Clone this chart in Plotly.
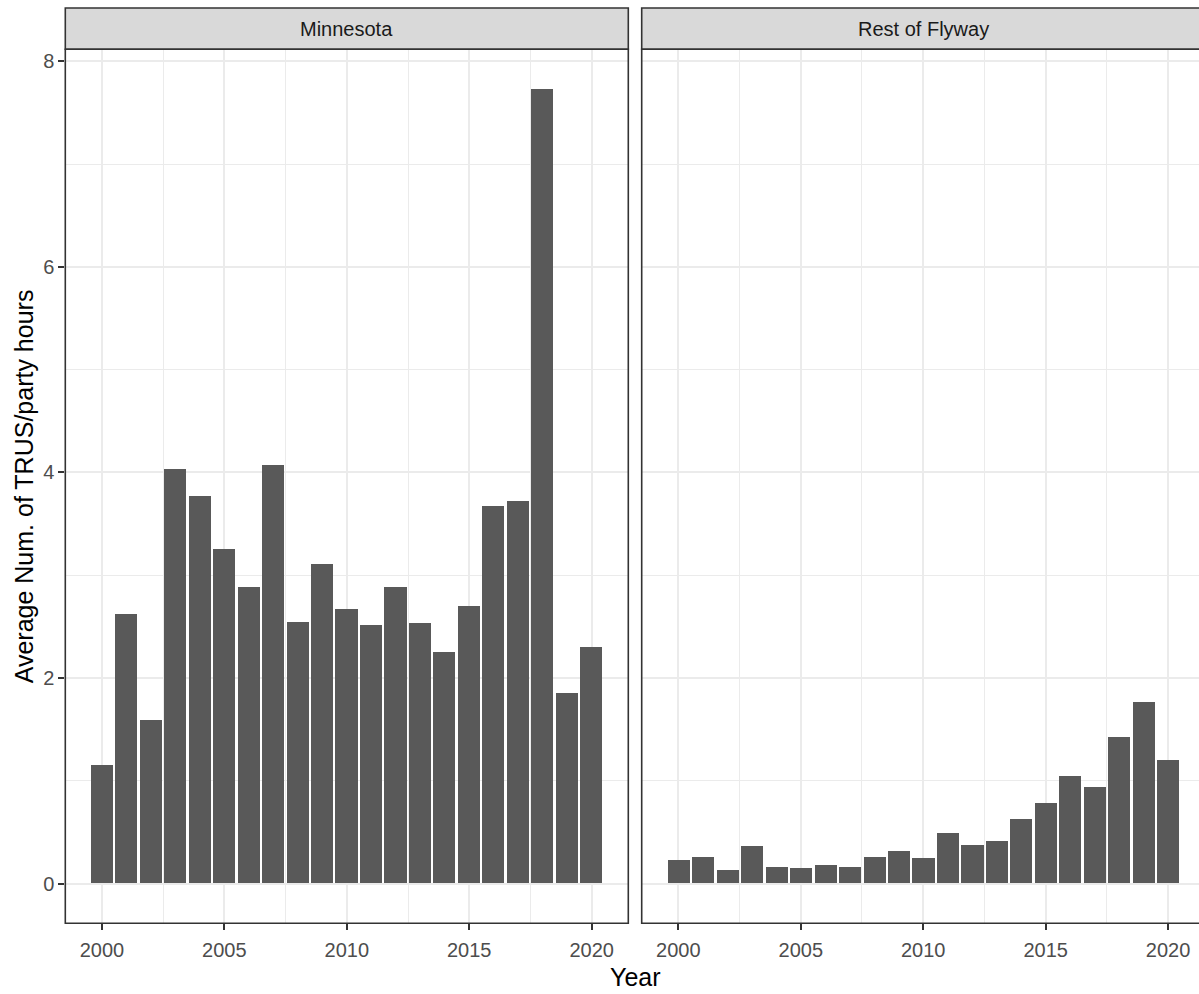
import plotly.graph_objects as go

# Average number of TRUS per party hour, by year
years = list(range(2000, 2021))
minnesota = [1.15, 2.62, 1.59, 4.03, 3.77, 3.25, 2.88, 4.07, 2.54, 3.11, 2.67,
             2.51, 2.88, 2.53, 2.25, 2.70, 3.67, 3.72, 7.73, 1.85, 2.30]
rest_of_flyway = [0.23, 0.26, 0.13, 0.36, 0.16, 0.15, 0.18, 0.16, 0.26, 0.31, 0.25,
                  0.49, 0.37, 0.41, 0.63, 0.78, 1.04, 0.94, 1.42, 1.76, 1.20]
panel_labels = ["Minnesota", "Rest of Flyway"]
x_ticks = [2000, 2005, 2010, 2015, 2020]
y_ticks = [0, 2, 4, 6, 8]

W, H = 1199, 994
FONT = "Liberation Sans, Arial, sans-serif"
BAR = "#595959"
GRID = "#EBEBEB"
DARK = "#333333"

# panel geometry (pixels)
panel_top, panel_bottom = 49.3, 923.3
strip_top = 8.0
left_panel = (65.3, 628.3)
right_panel = (641.7, 1204.7)

def px(x):
    return x / W

def py(y):
    return 1 - y / H

# ggplot-style expanded scales
bar_w = 0.9
x_lo = min(years) - bar_w / 2
x_hi = max(years) + bar_w / 2
x_pad = 0.05 * (x_hi - x_lo)
x_range = [x_lo - x_pad, x_hi + x_pad]
ymax = max(max(minnesota), max(rest_of_flyway))
y_range = [-0.05 * ymax, 1.05 * ymax]

# right panel runs past the page edge; clip its range at the page
per_px = (x_range[1] - x_range[0]) / (right_panel[1] - right_panel[0])
x2_range = [x_range[0], x_range[0] + (W - right_panel[0]) * per_px]

fig = go.Figure()
fig.add_trace(go.Bar(x=years, y=minnesota, width=bar_w, marker=dict(color=BAR, line=dict(width=0)),
                     xaxis="x", yaxis="y", showlegend=False))
fig.add_trace(go.Bar(x=years, y=rest_of_flyway, width=bar_w, marker=dict(color=BAR, line=dict(width=0)),
                     xaxis="x2", yaxis="y2", showlegend=False))

xcommon = dict(
    tickvals=x_ticks, ticks="outside", ticklen=6, tickwidth=1.5, tickcolor=DARK,
    tickfont=dict(family=FONT, size=20, color="#4D4D4D"), ticklabelstandoff=3,
    showgrid=True, gridcolor=GRID, gridwidth=1.5, zeroline=False, showline=False,
    minor=dict(dtick=2.5, tick0=2000, showgrid=True, gridcolor=GRID, gridwidth=1),
    fixedrange=True,
)
ydom = [py(panel_bottom), py(panel_top)]

fig.update_layout(
    width=W, height=H, autosize=False,
    margin=dict(l=0, r=0, t=0, b=0),
    paper_bgcolor="white", plot_bgcolor="white",
    bargap=0,
    xaxis=dict(xcommon, domain=[px(left_panel[0]), px(left_panel[1])], range=x_range, anchor="y"),
    xaxis2=dict(xcommon, domain=[px(right_panel[0]), 1.0], range=x2_range, anchor="y2"),
    yaxis=dict(domain=ydom, range=y_range, tickvals=y_ticks, ticks="outside", ticklen=6,
               tickwidth=1.5, tickcolor=DARK, tickfont=dict(family=FONT, size=20, color="#4D4D4D"),
               showgrid=True, gridcolor=GRID, gridwidth=1.5, zeroline=False, showline=False,
               minor=dict(dtick=1, tick0=0, showgrid=True, gridcolor=GRID, gridwidth=1),
               anchor="x", fixedrange=True),
    yaxis2=dict(domain=ydom, range=y_range, tickvals=y_ticks, showticklabels=False, ticks="",
                showgrid=True, gridcolor=GRID, gridwidth=1.5, zeroline=False, showline=False,
                minor=dict(dtick=1, tick0=0, showgrid=True, gridcolor=GRID, gridwidth=1),
                anchor="x2", fixedrange=True),
)

shapes = []
annotations = []
for (x0, x1), label in zip([left_panel, right_panel], panel_labels):
    # strip
    shapes.append(dict(type="rect", xref="paper", yref="paper",
                       x0=px(x0), x1=px(x1), y0=py(panel_top), y1=py(strip_top),
                       fillcolor="#D9D9D9", line=dict(color=DARK, width=1.6), layer="above"))
    # panel border
    shapes.append(dict(type="rect", xref="paper", yref="paper",
                       x0=px(x0), x1=px(x1), y0=py(panel_bottom), y1=py(panel_top),
                       fillcolor="rgba(0,0,0,0)", line=dict(color=DARK, width=1.6), layer="above"))
    annotations.append(dict(text=label, xref="paper", yref="paper",
                            x=px((x0 + x1) / 2), y=py((strip_top + panel_top) / 2),
                            xanchor="center", yanchor="middle", showarrow=False,
                            font=dict(family=FONT, size=20, color="#1A1A1A")))

annotations.append(dict(text="Year", xref="paper", yref="paper",
                        x=px((left_panel[0] + right_panel[1]) / 2), y=py(977),
                        xanchor="center", yanchor="middle", showarrow=False,
                        font=dict(family=FONT, size=25, color="black")))
annotations.append(dict(text="Average Num. of TRUS/party hours", xref="paper", yref="paper",
                        x=px(24), y=py((panel_top + panel_bottom) / 2), textangle=-90,
                        xanchor="center", yanchor="middle", showarrow=False,
                        font=dict(family=FONT, size=25, color="black")))

fig.update_layout(shapes=shapes, annotations=annotations)
fig.write_html("out.html", config=dict(displayModeBar=False))
